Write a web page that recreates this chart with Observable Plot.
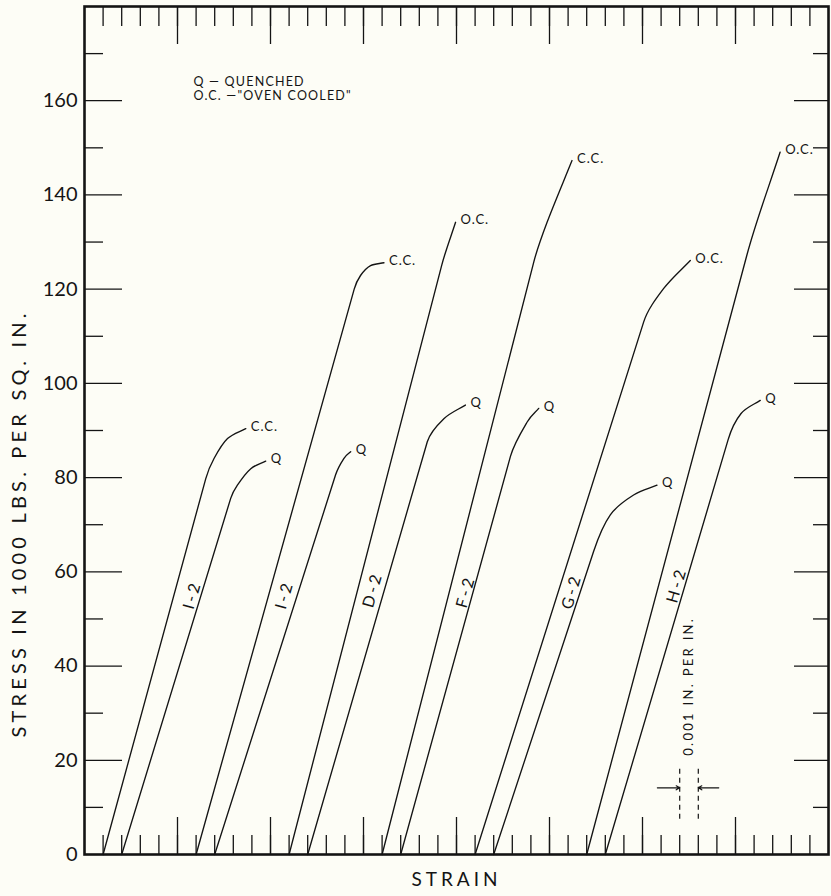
<!DOCTYPE html>
<html><head><meta charset="utf-8">
<script src="https://cdn.jsdelivr.net/npm/d3@7"></script>
<script src="https://cdn.jsdelivr.net/npm/@observablehq/plot@0.6"></script>
<style>
html,body{margin:0;padding:0;background:#fdfdf6;}
#chart svg{display:block;}
</style></head><body><div id="chart"></div>
<script>
// Strain in units of 0.001 in. per in. (offset per specimen), stress in 1000 lbs. per sq. in.
// In each series: index 0 = start, index 1 = end of the straight (elastic) part, then the curved part.
const specimens = ["I-2", "I-2", "D-2", "F-2", "G-2", "H-2"];
const upperTreatment = ["C.C.", "C.C.", "O.C.", "C.C.", "O.C.", "O.C."];
const upperStrain = [
  [1, 6.52, 6.97, 7.69, 8.67],
  [6, 14.5, 14.84, 15.38, 16.1],
  [11, 19.2, 19.95],
  [16, 24.15, 24.87, 26.21],
  [21, 30.06, 31.13, 32.57],
  [27, 35.61, 37.4]
];
const upperStress = [
  [0, 79.8, 84.1, 88.3, 90.4],
  [0, 120.0, 122.9, 125.0, 125.6],
  [0, 125.0, 134.2],
  [0, 125.7, 134.2, 147.3],
  [0, 113.0, 120.1, 126.1],
  [0, 127.2, 149.1]
];
const quenchedStrain = [
  [2, 7.86, 8.22, 8.94, 9.74],
  [7, 13.5, 13.95, 14.31],
  [12, 18.43, 19.32, 20.48],
  [17, 22.9, 23.8, 24.42],
  [22, 27.37, 28.27, 29.52, 30.78],
  [28, 34.6, 35.3, 36.33]
];
const quenchedStress = [
  [0, 75.6, 78.4, 81.9, 83.5],
  [0, 80.6, 84.1, 85.5],
  [0, 87.6, 92.5, 95.4],
  [0, 84.5, 91.8, 94.7],
  [0, 64.3, 72.1, 76.3, 78.4],
  [0, 88.0, 93.6, 96.4]
];
const specimenLabelStrain = [5.8, 10.76, 15.5, 20.5, 26.2, 31.85];
const specimenLabelStress = [55.1, 55.1, 56.2, 55.8, 55.8, 57.2];
const yTickLabels = [0, 20, 40, 60, 80, 100, 120, 140, 160];
const xTicks = d3.range(1, 40);
const xMajorTicks = [5, 10, 15, 20, 25, 30, 35];
const yMinorTicks = [10, 30, 50, 70, 90, 110, 130, 150, 170];
const yMajorTicks = [20, 40, 60, 80, 100, 120, 140, 160];
const legendText = "Q — QUENCHED\nO.C. —\"OVEN COOLED\"";
const xTitle = "STRAIN";
const yTitle = "STRESS IN 1000 LBS. PER SQ. IN.";
const scaleText = "0.001 IN. PER IN.";
const scaleBarStrain = [32, 33];
const scaleBarStress = [7.5, 18.4];
const scaleArrowStress = 14.15;
const scaleTextStress = 35.7;

// build tables
const curves = [];
const ends = [];
function addSeries(id, xs, ys, label) {
  xs.forEach((x, j) => curves.push({id, x, y: ys[j]}));
  const n = xs.length - 1;
  ends.push({x: xs[n], y: ys[n], t: label});
}
specimens.forEach((s, i) => {
  addSeries("u" + i, upperStrain[i], upperStress[i], upperTreatment[i]);
  addSeries("q" + i, quenchedStrain[i], quenchedStress[i], "Q");
});
const specLabels = specimens.map((s, i) => ({x: specimenLabelStrain[i], y: specimenLabelStress[i], t: s}));

// Curve drawing: straight elastic segment, then a smooth bend that leaves the straight part tangentially.
function elbowCurve(context) {
  let pts;
  return {
    areaStart() {}, areaEnd() {},
    lineStart() { pts = []; },
    point(x, y) { pts.push([+x, +y]); },
    lineEnd() {
      const n = pts.length;
      if (!n) return;
      context.moveTo(pts[0][0], pts[0][1]);
      if (n === 1) return;
      context.lineTo(pts[1][0], pts[1][1]);
      if (n === 2) return;
      const t = [];
      const dx0 = pts[1][0] - pts[0][0], dy0 = pts[1][1] - pts[0][1];
      const L0 = Math.hypot(dx0, dy0);
      const L1 = Math.hypot(pts[2][0] - pts[1][0], pts[2][1] - pts[1][1]);
      t[1] = [dx0 / L0 * L1, dy0 / L0 * L1];
      for (let i = 2; i < n - 1; i++) t[i] = [(pts[i + 1][0] - pts[i - 1][0]) / 2, (pts[i + 1][1] - pts[i - 1][1]) / 2];
      t[n - 1] = [pts[n - 1][0] - pts[n - 2][0], pts[n - 1][1] - pts[n - 2][1]];
      for (let i = 1; i < n - 1; i++) {
        const p = pts[i], q = pts[i + 1];
        context.bezierCurveTo(p[0] + t[i][0] / 3, p[1] + t[i][1] / 3, q[0] - t[i + 1][0] / 3, q[1] - t[i + 1][1] / 3, q[0], q[1]);
      }
    }
  };
}

const ink = "#141414";
const tickStyle = {tickFormat: () => "", label: null, stroke: ink, strokeWidth: 1.3};
const plot = Plot.plot({
  width: 831, height: 896,
  marginLeft: 84, marginRight: 3, marginTop: 6, marginBottom: 42,
  style: {background: "transparent", fontFamily: "Lato, 'DejaVu Sans', sans-serif", color: ink, overflow: "visible"},
  x: {domain: [0, 40]},
  y: {domain: [0, 180]},
  marks: [
    Plot.axisX({anchor: "bottom", ticks: xTicks, tickSize: -19, ...tickStyle}),
    Plot.axisX({anchor: "bottom", ticks: xMajorTicks, tickSize: -37, ...tickStyle}),
    Plot.axisX({anchor: "top", ticks: xTicks, tickSize: -19, ...tickStyle}),
    Plot.axisX({anchor: "top", ticks: xMajorTicks, tickSize: -37, ...tickStyle}),
    Plot.axisY({anchor: "left", ticks: yMinorTicks, tickSize: -19, ...tickStyle}),
    Plot.axisY({anchor: "left", ticks: yMajorTicks, tickSize: -38, ...tickStyle}),
    Plot.axisY({anchor: "right", ticks: yMinorTicks, tickSize: -16, ...tickStyle}),
    Plot.axisY({anchor: "right", ticks: yMajorTicks, tickSize: -35, ...tickStyle}),
    Plot.axisY({anchor: "left", ticks: yTickLabels, tickSize: 0, tickPadding: 7, label: null, fontSize: 20, fill: ink}),
    Plot.frame({stroke: ink, strokeWidth: 2.6}),
    Plot.line(curves, {x: "x", y: "y", z: "id", curve: elbowCurve, stroke: ink, strokeWidth: 1.35}),
    Plot.text(ends, {x: "x", y: "y", text: "t", dx: 5, dy: -2, textAnchor: "start", fontSize: 13, fill: ink}),
    Plot.text(specLabels, {x: "x", y: "y", text: "t", rotate: -74, fontSize: 16, fill: ink}),
    Plot.text([legendText], {frameAnchor: "top-left", dx: 109, dy: 70, lineAnchor: "top", textAnchor: "start", fontSize: 12.5, lineHeight: 1.1, fill: ink}),
    Plot.text([xTitle], {frameAnchor: "bottom", dy: 31, fontSize: 19, fill: ink}),
    Plot.text([yTitle], {frameAnchor: "left", dx: -65, dy: 93, rotate: -90, textAnchor: "middle", fontSize: 20, fill: ink}),
    Plot.ruleX(scaleBarStrain, {x: d => d, y1: scaleBarStress[0], y2: scaleBarStress[1], stroke: ink, strokeWidth: 1.2, strokeDasharray: "5,4"}),
    Plot.arrow([{x1: scaleBarStrain[0] - 1.2, x2: scaleBarStrain[0]}, {x1: scaleBarStrain[1] + 1.1, x2: scaleBarStrain[1]}],
      {x1: "x1", x2: "x2", y1: scaleArrowStress, y2: scaleArrowStress, stroke: ink, strokeWidth: 1.2, headLength: 5}),
    Plot.text([scaleText], {x: (scaleBarStrain[0] + scaleBarStrain[1]) / 2, y: scaleTextStress, rotate: -90, fontSize: 13, fill: ink})
  ]
});
document.getElementById("chart").appendChild(plot);
// wide letter spacing as in the hand lettering
d3.select(plot).selectAll("text").each(function() {
  const t = this.textContent;
  if (t === xTitle) this.setAttribute("letter-spacing", "4");
  else if (t === yTitle) this.setAttribute("letter-spacing", "4.2");
  else if (t === scaleText) this.setAttribute("letter-spacing", "2.3");
  else if (t.includes("QUENCHED") || t.includes("OVEN")) this.setAttribute("letter-spacing", "1.2");
  else if (t === "C.C." || t === "O.C.") this.setAttribute("letter-spacing", "1");
  else if (specimens.includes(t)) this.setAttribute("letter-spacing", "3");
});
</script></body></html>
